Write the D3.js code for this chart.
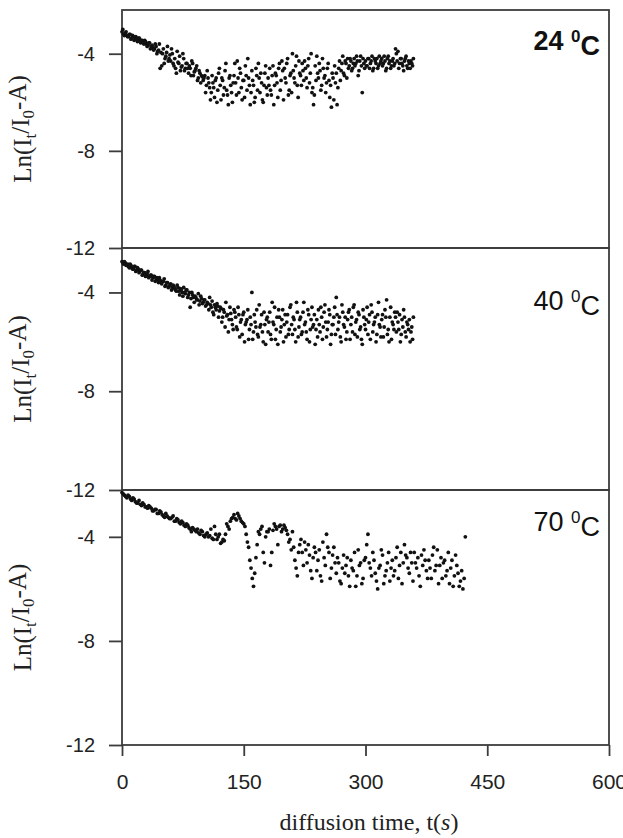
<!DOCTYPE html>
<html>
<head>
<meta charset="utf-8">
<script src="https://cdn.jsdelivr.net/npm/d3@7"></script>
<style>
  body { margin: 0; background: #fff; }
</style>
</head>
<body>
<svg id="chart"></svg>
<script>
// tick labels
const timeTicks = [0, 150, 300, 450, 600];
const lnTicks = [-4, -8, -12];
const tempLabels = ["24", "40", "70"];

// sampling of each run: interval (s); the "b" readings sit half an interval later
const step24 = 2, step40 = 2, step70 = 3;

// Ln(It/I0-A), one value per sample
const ln24a = [
  -3.1, -3.2, -3.15, -3.25, -3.3, -3.2, -3.35, -3.3, -3.4, -3.35,
  -3.45, -3.4, -3.5, -3.55, -3.45, -3.6, -3.65, -3.55, -3.7, -3.75,
  -3.8, -3.7, -3.9, -3.6, -3.95, -4.0, -4.4, -4.1, -3.7, -4.2,
  -4.3, -4.0, -4.5, -4.6, -3.9, -4.4, -4.7, -4.5, -4.2, -4.6,
  -4.4, -4.8, -4.6, -4.3, -4.9, -4.7, -4.5, -5.0, -4.8, -4.9,
  -5.1, -4.9, -5.3, -5.0, -5.4, -5.6, -5.2, -5.8, -5.0, -5.5,
  -4.6, -5.9, -5.1, -5.4, -4.4, -5.7, -5.0, -5.3, -6.0, -4.9,
  -5.2, -4.3, -5.6, -4.8, -5.9, -5.1, -4.5, -5.5, -5.0, -6.1,
  -4.7, -5.3, -5.8, -4.9, -4.4, -5.6, -5.2, -6.0, -4.8, -5.4,
  -5.0, -4.6, -5.7, -4.5, -5.3, -4.9, -5.8, -4.4, -5.1, -4.7,
  -4.6, -5.2, -4.2, -5.5, -4.8, -4.0, -5.0, -4.5, -5.3, -4.3,
  -4.9, -4.4, -5.1, -4.6, -5.4, -4.2, -4.8, -5.6, -6.1, -4.5,
  -4.1, -5.0, -4.7, -5.3, -4.6, -4.9, -5.2, -4.4, -5.8, -6.2,
  -5.0, -4.5, -4.8, -5.4, -4.3, -4.7, -4.1, -4.9, -4.4, -4.2,
  -4.5, -4.3, -4.6, -4.2, -4.4, -4.3, -4.7, -4.1, -5.6, -4.4,
  -4.3, -4.5, -4.2, -4.4, -4.1, -4.6, -4.3, -4.2, -4.5, -4.4,
  -4.2, -4.4, -4.3, -4.6, -4.1, -4.3, -4.5, -4.2, -4.4, -4.0,
  -3.9, -4.4, -4.2, -4.5, -4.3, -4.1, -4.6, -4.4, -4.3, -4.5
];
const ln24b = [
  -3.0, -3.25, -3.1, -3.3, -3.2, -3.4, -3.25, -3.45, -3.3, -3.5,
  -3.35, -3.55, -3.45, -3.6, -3.5, -3.7, -3.55, -3.8, -3.65, -3.85,
  -3.6, -4.0, -3.85, -4.6, -4.5, -3.8, -4.2, -3.95, -4.3, -4.05,
  -3.8, -4.4, -4.2, -4.8, -4.35, -4.1, -4.55, -4.0, -4.7, -4.4,
  -4.6, -4.5, -4.9, -4.4, -4.75, -4.6, -5.1, -4.7, -5.2, -4.95,
  -5.0, -5.6, -4.7, -5.2, -5.9, -4.9, -5.4, -5.1, -6.0, -4.8,
  -5.3, -5.0, -5.7, -4.7, -5.5, -6.1, -4.9, -5.6, -5.2, -4.4,
  -5.7, -5.0, -4.6, -5.4, -5.1, -5.8, -4.9, -4.2, -5.3, -5.6,
  -5.1, -6.0, -4.6, -5.5, -5.0, -4.8, -5.9, -5.3, -4.5, -5.7,
  -5.3, -5.5, -4.9, -6.1, -4.8, -5.2, -4.6, -5.5, -4.3, -5.9,
  -5.0, -4.4, -5.7, -4.9, -5.6, -4.7, -5.2, -4.1, -5.8, -4.8,
  -5.3, -4.7, -4.3, -5.0, -4.5, -5.2, -4.0, -5.4, -5.7, -5.1,
  -4.8, -4.4, -5.5, -4.2, -5.0, -5.6, -4.6, -5.1, -5.3, -4.8,
  -5.9, -5.2, -6.1, -4.6, -5.1, -4.4, -4.8, -4.3, -5.0, -4.6,
  -4.2, -4.7, -4.4, -4.5, -4.1, -4.9, -4.3, -4.5, -4.2, -4.6,
  -4.5, -4.2, -4.6, -4.3, -4.7, -4.2, -4.4, -4.6, -4.1, -4.3,
  -4.5, -4.1, -4.7, -4.2, -4.4, -4.6, -4.3, -4.5, -3.8, -4.3,
  -4.6, -4.2, -4.4, -4.7, -4.2, -4.5, -4.3, -4.6, -4.4, -4.2
];

const ln40a = [
  -2.75, -2.85, -2.8, -2.9, -2.95, -2.85, -3.0, -3.05, -2.95, -3.1,
  -3.05, -3.15, -3.1, -3.25, -3.2, -3.3, -3.15, -3.35, -3.3, -3.4,
  -3.35, -3.45, -3.5, -3.4, -3.6, -3.55, -3.45, -3.7, -3.6, -3.75,
  -3.65, -3.8, -3.75, -3.9, -3.7, -3.95, -3.85, -4.0, -3.8, -4.05,
  -3.9, -4.1, -4.6, -4.0, -4.2, -4.15, -4.3, -4.05, -4.35, -4.25,
  -4.4, -4.3, -4.5, -4.45, -4.2, -4.6, -4.8, -4.5, -4.7, -4.55,
  -4.75, -4.65, -5.0, -4.8, -4.4, -4.9, -5.1, -4.85, -5.3, -4.7,
  -5.0, -5.5, -4.9, -5.2, -5.7, -4.8, -5.3, -5.1, -5.9, -5.0,
  -4.0, -5.6, -5.2, -4.7, -5.8, -5.4, -4.9, -6.0, -5.3, -5.1,
  -5.6, -4.8, -5.9, -5.2, -4.6, -5.5, -6.1, -5.0, -5.4, -4.7,
  -5.3, -5.8, -4.9, -5.5, -4.5, -5.7, -5.1, -6.0, -4.8, -5.4,
  -5.0, -5.6, -4.4, -5.2, -5.9, -4.9, -5.5, -4.6, -5.3, -6.1,
  -5.1, -4.7, -5.6, -5.0, -5.4, -4.5, -5.8, -5.2, -4.9, -5.7,
  -5.3, -4.6, -4.2, -5.5, -5.0, -6.0, -4.8, -5.4, -5.9, -5.1,
  -4.7, -5.3, -5.6, -4.5, -5.2, -5.8, -4.9, -5.4, -6.1, -5.0,
  -5.5, -4.6, -5.2, -5.9, -4.8, -5.3, -5.0, -5.7, -4.4, -5.4,
  -5.1, -5.8, -4.7, -4.3, -5.5, -5.0, -5.9, -5.3, -4.8, -5.6,
  -5.2, -4.9, -5.7, -5.4, -5.0, -5.8, -5.3, -5.1, -5.6, -5.9
];
const ln40b = [
  -2.8, -2.75, -2.9, -2.85, -3.0, -2.9, -3.05, -2.95, -3.15, -3.0,
  -3.2, -3.1, -3.3, -3.2, -3.35, -3.25, -3.4, -3.3, -3.5, -3.35,
  -3.55, -3.4, -3.6, -3.5, -3.65, -3.55, -3.75, -3.6, -3.8, -3.7,
  -3.9, -3.7, -3.85, -3.95, -3.8, -4.1, -3.9, -4.15, -4.0, -3.9,
  -4.2, -4.0, -4.25, -4.1, -4.4, -4.2, -4.3, -4.5, -4.15, -4.45,
  -4.3, -4.55, -4.4, -4.7, -4.5, -4.35, -4.9, -4.6, -4.45, -5.0,
  -4.6, -5.2, -4.7, -5.4, -4.95, -5.6, -4.6, -5.1, -5.5, -4.8,
  -5.4, -4.6, -5.8, -5.1, -4.9, -6.0, -5.2, -4.7, -5.5, -5.3,
  -5.9, -4.9, -5.4, -5.7, -4.5, -5.3, -5.6, -4.8, -6.1, -5.0,
  -5.2, -5.7, -4.4, -5.3, -5.9, -5.0, -4.7, -5.6, -5.1, -6.0,
  -4.9, -5.2, -5.7, -4.6, -5.3, -5.0, -5.5, -4.4, -5.8, -5.1,
  -5.7, -4.8, -5.3, -5.6, -4.7, -6.0, -5.1, -5.4, -4.9, -5.5,
  -5.8, -5.3, -4.6, -5.9, -4.8, -5.2, -5.5, -4.7, -6.1, -5.3,
  -5.0, -5.7, -4.9, -5.2, -5.8, -4.5, -5.3, -5.0, -5.6, -4.8,
  -5.9, -5.0, -4.6, -5.7, -5.1, -4.8, -5.5, -5.9, -4.7, -5.3,
  -5.1, -5.7, -4.9, -4.5, -5.6, -5.2, -6.0, -4.9, -5.3, -5.8,
  -4.9, -5.4, -5.0, -5.7, -6.0, -4.6, -5.2, -5.5, -5.0, -4.8,
  -5.5, -6.0, -5.1, -4.7, -5.6, -5.2, -5.5, -6.0, -5.4, -5.0
];

const ln70a = [
  -2.3, -2.4, -2.5, -2.45, -2.6, -2.55, -2.7, -2.6, -2.8, -2.75,
  -2.85, -2.8, -2.9, -3.0, -2.95, -3.1, -3.05, -3.2, -3.1, -3.25,
  -3.3, -3.2, -3.4, -3.35, -3.5, -3.45, -3.6, -3.55, -3.7, -3.65,
  -3.75, -3.7, -3.9, -3.8, -4.0, -3.85, -3.95, -4.05, -3.6, -4.1,
  -3.9, -4.2, -4.15, -3.5, -3.7, -3.3, -3.15, -3.35, -3.2, -3.4,
  -3.5, -3.9, -4.4, -5.2, -5.9, -4.8, -3.8, -3.7, -4.6, -4.0,
  -3.8, -5.1, -3.75, -3.6, -4.3, -3.55, -3.7, -3.65, -3.9, -4.1,
  -3.8, -4.9, -5.5, -4.3, -4.6, -4.2, -5.0, -4.7, -5.6, -4.4,
  -5.3, -4.5, -5.7, -4.8, -3.9, -4.6, -5.2, -4.4, -5.4, -5.0,
  -5.8, -4.7, -5.1, -5.5, -4.9, -5.3, -5.9, -4.5, -5.0, -5.6,
  -4.8, -3.9, -5.2, -4.6, -5.4, -6.0, -5.1, -4.7, -5.5, -5.0,
  -5.7, -4.9, -5.3, -4.4, -5.1, -5.8, -4.3, -4.8, -5.4, -5.0,
  -4.6, -5.2, -5.5, -4.7, -4.5, -5.3, -4.9, -5.6, -4.4, -5.1,
  -5.8, -4.8, -5.0, -5.5, -4.6, -5.2, -5.9, -4.7, -5.4, -5.7,
  -6.0, -4.0
];
const ln70b = [
  -2.35, -2.45, -2.4, -2.55, -2.5, -2.65, -2.7, -2.75, -2.7, -2.85,
  -2.9, -2.85, -3.0, -2.95, -3.1, -3.0, -3.15, -3.25, -3.2, -3.3,
  -3.25, -3.4, -3.3, -3.45, -3.4, -3.55, -3.5, -3.65, -3.8, -3.7,
  -3.8, -3.85, -3.75, -3.95, -3.9, -4.0, -3.7, -4.1, -3.9, -4.0,
  -4.25, -4.1, -3.9, -3.6, -3.4, -3.25, -3.3, -3.1, -3.3, -3.45,
  -3.6, -4.2, -4.9, -5.6, -5.4, -4.3, -3.9, -3.6, -5.0, -3.8,
  -3.7, -4.6, -3.5, -3.7, -3.6, -3.8, -3.55, -3.75, -4.2, -4.5,
  -4.4, -5.2, -4.6, -4.1, -5.1, -4.5, -4.3, -5.3, -4.8, -4.6,
  -4.9, -5.5, -4.2, -5.1, -4.4, -5.6, -4.7, -5.0, -4.8, -5.7,
  -5.2, -5.4, -4.8, -5.9, -5.2, -4.6, -5.5, -5.1, -5.8, -4.9,
  -4.3, -5.0, -5.5, -4.9, -5.7, -5.2, -4.5, -5.8, -5.3, -4.6,
  -5.2, -5.5, -4.8, -5.6, -4.6, -5.0, -4.7, -5.2, -4.6, -5.7,
  -5.0, -4.8, -5.9, -5.1, -4.9, -5.6, -5.2, -4.7, -5.3, -4.5,
  -5.1, -5.6, -4.9, -5.3, -5.8, -4.9, -5.5, -5.1, -5.9, -5.3,
  -5.6
];

const W = 623, H = 838;
const svg = d3.select("#chart").attr("width", W).attr("height", H);
svg.append("rect").attr("width", W).attr("height", H).attr("fill", "#fff");

const plotLeft = 122, plotRight = 609;
const x = d3.scaleLinear().domain([0, 600]).range([plotLeft, plotRight]);

const tickFont = "'Liberation Sans', Arial, sans-serif";
const serif = "'Liberation Serif', 'Times New Roman', serif";
const frameColor = "#3c3c3c";

const panels = [
  {temp: tempLabels[0], runs: [ln24a, ln24b], step: step24, top: 10,  bottom: 248, bold: true,  labelY: 50},
  {temp: tempLabels[1], runs: [ln40a, ln40b], step: step40, top: 248, bottom: 490, bold: false, labelY: 310},
  {temp: tempLabels[2], runs: [ln70a, ln70b], step: step70, top: 490, bottom: 745, bold: false, labelY: 531}
];

panels.forEach((p, k) => {
  const y = d3.scaleLinear().domain([-12, -2.2]).range([p.bottom, p.top]);
  const g = svg.append("g");

  // frame
  g.append("rect")
    .attr("x", plotLeft).attr("y", p.top)
    .attr("width", plotRight - plotLeft).attr("height", p.bottom - p.top)
    .attr("fill", "none")
    .attr("stroke", frameColor)
    .attr("stroke-width", 1.8);

  // y axis
  const ya = g.append("g")
    .attr("transform", "translate(" + plotLeft + ",0)")
    .call(d3.axisLeft(y).tickValues(lnTicks).tickSize(13).tickPadding(14)
      .tickFormat(d => String(d)));
  ya.select(".domain").remove();
  ya.selectAll("line").attr("stroke", frameColor).attr("stroke-width", 1.8);
  ya.selectAll("text")
    .style("font-family", tickFont)
    .style("font-size", "20px")
    .attr("fill", "#222");

  // data points, two interleaved readings per sample interval
  p.runs.forEach((vals, r) => {
    g.append("g")
      .selectAll("circle")
      .data(vals)
      .join("circle")
      .attr("cx", (d, i) => x((i + r * 0.5) * p.step))
      .attr("cy", d => y(d))
      .attr("r", 1.9)
      .attr("fill", "#111");
  });

  // temperature label
  const t = g.append("text")
    .attr("x", 600).attr("y", p.labelY)
    .attr("text-anchor", "end")
    .style("font-family", "'Liberation Sans', Arial, sans-serif")
    .style("font-size", "27px")
    .style("font-weight", p.bold ? "bold" : "normal")
    .attr("fill", "#111");
  t.append("tspan").text(p.temp + " ");
  t.append("tspan").attr("dy", "-0.5em").style("font-size", "17px").text("0");
  t.append("tspan").attr("dy", "0.5em").text("C");

  // y title
  const cy = (p.top + p.bottom) / 2;
  const yt = g.append("text")
    .attr("transform", "translate(31," + cy + ") rotate(-90)")
    .attr("text-anchor", "middle")
    .style("font-family", serif)
    .style("font-size", "25px")
    .attr("fill", "#222");
  yt.append("tspan").text("Ln(I");
  yt.append("tspan").attr("dy", "0.3em").style("font-size", "17px").text("t");
  yt.append("tspan").attr("dy", "-0.3em").text("/I");
  yt.append("tspan").attr("dy", "0.3em").style("font-size", "17px").text("0");
  yt.append("tspan").attr("dy", "-0.3em").text("-A)");

  // x axis on the last panel
  if (k === panels.length - 1) {
    const xa = g.append("g")
      .attr("transform", "translate(0," + p.bottom + ")")
      .call(d3.axisBottom(x).tickValues(timeTicks).tickSize(11).tickPadding(18)
        .tickFormat(d => String(d)));
    xa.select(".domain").remove();
    xa.selectAll("line").attr("stroke", frameColor).attr("stroke-width", 1.8);
    xa.selectAll("text")
      .style("font-family", tickFont)
      .style("font-size", "21px")
      .attr("fill", "#222");
  }
});

// x title
const xt = svg.append("text")
  .attr("x", 369).attr("y", 830)
  .attr("text-anchor", "middle")
  .style("font-family", serif)
  .style("font-size", "24px")
  .attr("fill", "#222");
xt.append("tspan").text("diffusion time, t(");
xt.append("tspan").style("font-style", "italic").text("s");
xt.append("tspan").text(")");
</script>
</body>
</html>
